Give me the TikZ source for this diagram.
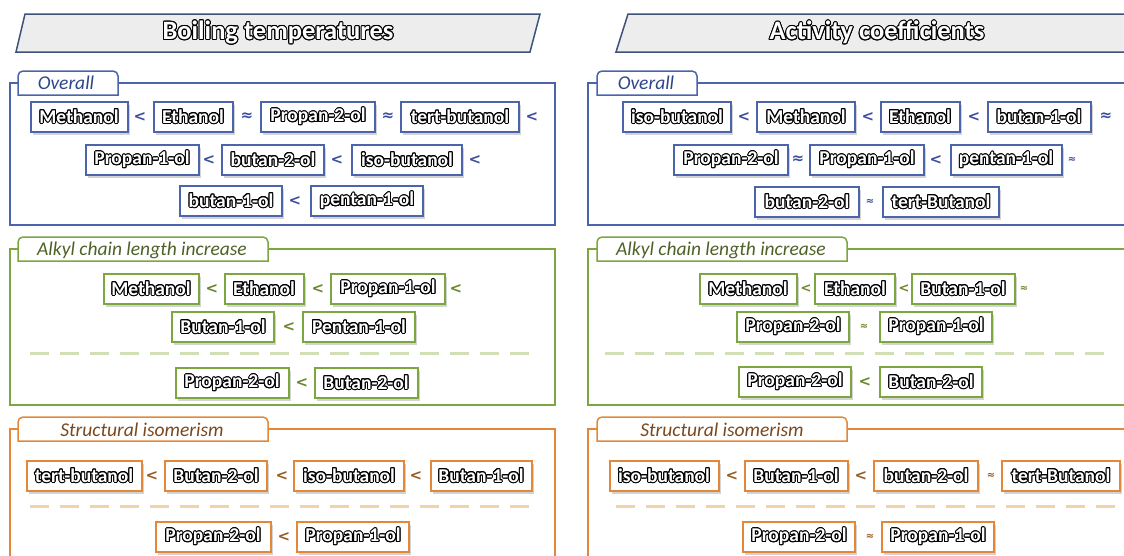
\documentclass[tikz,border=0pt]{standalone}
\usepackage{fontspec}
\setmainfont{Carlito}
\newfontfamily\symfont{DejaVu Sans}
\usepackage{contour}
\contourlength{1pt}
\usetikzlibrary{shadows}

\definecolor{bluC}{RGB}{76,100,172}
\definecolor{grnC}{RGB}{124,166,62}
\definecolor{orgC}{RGB}{226,136,58}
\definecolor{bluT}{RGB}{46,70,138}
\definecolor{grnT}{RGB}{78,98,40}
\definecolor{orgT}{RGB}{122,72,30}
\definecolor{bluR}{RGB}{58,78,160}
\definecolor{grnR}{RGB}{104,134,42}
\definecolor{orgR}{RGB}{150,92,34}
\definecolor{grnD}{RGB}{208,224,180}
\definecolor{orgD}{RGB}{242,210,170}
\definecolor{titF}{RGB}{237,237,237}
\definecolor{titD}{RGB}{62,82,122}

\newcommand{\ol}[1]{\contour{black}{#1}}

\tikzset{
	molbox/.style={draw,line width=2pt,fill=white,minimum height=30,inner sep=0pt,text=white,
		font=\fontsize{19.5}{21}\selectfont\bfseries,
		drop shadow={shadow xshift=2pt,shadow yshift=-2.5pt,opacity=.35}},
	blubox/.style={molbox,draw=bluC},
	grnbox/.style={molbox,draw=grnC},
	orgbox/.style={molbox,draw=orgC},
	rel/.style={font=\symfont\bfseries\fontsize{15}{15}\selectfont,inner sep=0pt},
	relmd/.style={font=\symfont\bfseries\fontsize{13}{13}\selectfont,inner sep=0pt},
	relsm/.style={font=\symfont\bfseries\fontsize{10}{10}\selectfont,inner sep=0pt},
	frame/.style={line width=1.5pt},
	tab/.style={line width=1.5pt,fill=white},
	tabtext/.style={font=\fontsize{19.5}{20}\selectfont\itshape,inner sep=0pt},
	dashline/.style={line width=3pt,dash pattern=on 19pt off 11pt},
	title/.style={inner sep=0pt,text=white,font=\fontsize{26.5}{28}\selectfont\bfseries}
}

\begin{document}
\begin{tikzpicture}[x=1pt,y=-1pt]
	\useasboundingbox (0,0) rectangle (1124,555);

	%titles
	\draw[line width=1.5pt,draw=titD,fill=titF] (25,14)--(540,14)--(530,52)--(16,52)--cycle;
	\draw[line width=1.5pt,draw=titD,fill=titF] (628,14)--(1140,14)--(1130,52)--(616,52)--cycle;
		\node[title] (tBoil) at (278,33) {\ol{Boiling temperatures}};
		\node[title] (tAct) at (877,33) {\ol{Activity coefficients}};

	%frames
	\draw[frame,bluC] (18,83)--(10,83)--(10,225)--(555,225)--(555,83)--(118,83);		%blue left
	\draw[frame,bluC] (597,83)--(588,83)--(588,225)--(1130,225);		%blue right
	\draw[frame,bluC] (697,83)--(1130,83);
	\draw[frame,grnC] (18,249)--(10,249)--(10,405)--(555,405)--(555,249)--(268,249);	%green left
	\draw[frame,grnC] (597,249)--(588,249)--(588,405)--(1130,405);		%green right
	\draw[frame,grnC] (847,249)--(1130,249);
	\draw[frame,orgC] (18,429)--(10,429)--(10,560);		%orange left
	\draw[frame,orgC] (555,560)--(555,429)--(268,429);
	\draw[frame,orgC] (597,429)--(588,429)--(588,560);	%orange right
	\draw[frame,orgC] (847,429)--(1130,429);

	%tabs
	\draw[tab,draw=bluC] (18,95) [rounded corners=5pt]--(18,71)--(118,71)[sharp corners]--(118,95)--cycle;
	\draw[tab,draw=bluC] (597,95) [rounded corners=5pt]--(597,71)--(697,71)[sharp corners]--(697,95)--cycle;
	\draw[tab,draw=grnC] (18,261) [rounded corners=5pt]--(18,237)--(268,237)[sharp corners]--(268,261)--cycle;
	\draw[tab,draw=grnC] (597,261) [rounded corners=5pt]--(597,237)--(847,237)[sharp corners]--(847,261)--cycle;
	\draw[tab,draw=orgC] (18,441) [rounded corners=5pt]--(18,417)--(268,417)[sharp corners]--(268,441)--cycle;
	\draw[tab,draw=orgC] (597,441) [rounded corners=5pt]--(597,417)--(847,417)[sharp corners]--(847,441)--cycle;
		\node[tabtext,text=bluT] (ovL) at (66,83) {Overall};
		\node[tabtext,text=bluT] (ovR) at (646,83) {Overall};
		\node[tabtext,text=grnT] (alL) at (142,250) {Alkyl chain length increase};
		\node[tabtext,text=grnT] (alR) at (721,250) {Alkyl chain length increase};
		\node[tabtext,text=orgT] (stL) at (142,430) {Structural isomerism};
		\node[tabtext,text=orgT] (stR) at (722,430) {Structural isomerism};

	%dashed separators
	\draw[dashline,grnD] (30,353)--(537,353);
	\draw[dashline,grnD] (605,353)--(1110,353);
	\draw[dashline,orgD] (30,506)--(537,506);
	\draw[dashline,orgD] (616,506)--(1124,506);

	%boiling - overall
	\node[blubox,minimum width=97] (bOMeth) at (79,117) {\ol{Methanol}};
	\node[rel,bluR] (bOr1) at (140,117) {<};
	\node[blubox,minimum width=79] (bOEth) at (193,117) {\ol{Ethanol}};
	\node[rel,bluR] (bOr2) at (247,117) {≈};
	\node[blubox,minimum width=114] (bOPr2) at (318,117) {\ol{Propan-2-ol}};
	\node[rel,bluR] (bOr3) at (388,117) {≈};
	\node[blubox,minimum width=118] (bOTert) at (460,117) {\ol{tert-butanol}};
	\node[rel,bluR] (bOr4) at (532,117) {<};
	%
	\node[blubox,minimum width=113] (bOPr1) at (142,160) {\ol{Propan-1-ol}};
	\node[rel,bluR] (bOr5) at (209,160) {<};
	\node[blubox,minimum width=102] (bOBu2) at (273,160) {\ol{butan-2-ol}};
	\node[rel,bluR] (bOr6) at (337,160) {<};
	\node[blubox,minimum width=110] (bOIso) at (407,160) {\ol{iso-butanol}};
	\node[rel,bluR] (bOr7) at (475,160) {<};
	%
	\node[blubox,minimum width=102] (bOBu1) at (231,201) {\ol{butan-1-ol}};
	\node[rel,bluR] (bOr8) at (295,201) {<};
	\node[blubox,minimum width=112] (bOPe1) at (367,201) {\ol{pentan-1-ol}};

	%activity - overall
	\node[blubox,minimum width=108] (aOIso) at (677,117) {\ol{iso-butanol}};
	\node[rel,bluR] (aOr1) at (744,117) {<};
	\node[blubox,minimum width=98] (aOMeth) at (806,117) {\ol{Methanol}};
	\node[rel,bluR] (aOr2) at (868,117) {<};
	\node[blubox,minimum width=79] (aOEth) at (920,117) {\ol{Ethanol}};
	\node[rel,bluR] (aOr3) at (974,117) {<};
	\node[blubox,minimum width=103] (aOBu1) at (1039,117) {\ol{butan-1-ol}};
	\node[rel,bluR] (aOr4) at (1106,117) {≈};
	%
	\node[blubox,minimum width=114] (aOPr2) at (731,160) {\ol{Propan-2-ol}};
	\node[rel,bluR] (aOr5) at (798,160) {≈};
	\node[blubox,minimum width=114] (aOPr1) at (867,160) {\ol{Propan-1-ol}};
	\node[rel,bluR] (aOr6) at (936,160) {<};
	\node[blubox,minimum width=111] (aOPe1) at (1006,160) {\ol{pentan-1-ol}};
	\node[relsm,bluR] (aOr7) at (1072,160) {≈};
	%
	\node[blubox,minimum width=104] (aOBu2) at (807,202) {\ol{butan-2-ol}};
	\node[relsm,bluR] (aOr8) at (870,202) {≈};
	\node[blubox,minimum width=116] (aOTert) at (941,202) {\ol{tert-Butanol}};

	%boiling - alkyl chain
	\node[grnbox,minimum width=95] (bAMeth) at (151,289) {\ol{Methanol}};
	\node[rel,grnR] (bAr1) at (212,289) {<};
	\node[grnbox,minimum width=79] (bAEth) at (264,289) {\ol{Ethanol}};
	\node[rel,grnR] (bAr2) at (318,289) {<};
	\node[grnbox,minimum width=114] (bAPr1) at (388,289) {\ol{Propan-1-ol}};
	\node[rel,grnR] (bAr3) at (456,289) {<};
	%
	\node[grnbox,minimum width=102] (bABu1) at (223,327) {\ol{Butan-1-ol}};
	\node[rel,grnR] (bAr4) at (289,327) {<};
	\node[grnbox,minimum width=112] (bAPe1) at (359,327) {\ol{Pentan-1-ol}};
	%
	\node[grnbox,minimum width=113] (bAPr2) at (232,383) {\ol{Propan-2-ol}};
	\node[rel,grnR] (bAr5) at (302,383) {<};
	\node[grnbox,minimum width=103] (bABu2) at (366,383) {\ol{Butan-2-ol}};

	%activity - alkyl chain
	\node[grnbox,minimum width=97] (aAMeth) at (748,289) {\ol{Methanol}};
	\node[relmd,grnR] (aAr1) at (806,289) {<};
	\node[grnbox,minimum width=80] (aAEth) at (855,289) {\ol{Ethanol}};
	\node[relmd,grnR] (aAr2) at (904,289) {<};
	\node[grnbox,minimum width=103] (aABu1) at (963,289) {\ol{Butan-1-ol}};
	\node[relsm,grnR] (aAr3) at (1024,289) {≈};
	%
	\node[grnbox,minimum width=112] (aAPr2) at (793,327) {\ol{Propan-2-ol}};
	\node[relsm,grnR] (aAr4) at (864,327) {≈};
	\node[grnbox,minimum width=112] (aAPr1) at (936,327) {\ol{Propan-1-ol}};
	%
	\node[grnbox,minimum width=112] (aAPr2b) at (795,382) {\ol{Propan-2-ol}};
	\node[rel,grnR] (aAr5) at (865,382) {<};
	\node[grnbox,minimum width=102] (aABu2) at (931,382) {\ol{Butan-2-ol}};

	%boiling - structural isomerism
	\node[orgbox,minimum width=115] (bSTert) at (84,476) {\ol{tert-butanol}};
	\node[rel,orgR] (bSr1) at (152,476) {<};
	\node[orgbox,minimum width=102] (bSBu2) at (216,476) {\ol{Butan-2-ol}};
	\node[rel,orgR] (bSr2) at (282,476) {<};
	\node[orgbox,minimum width=110] (bSIso) at (349,476) {\ol{iso-butanol}};
	\node[rel,orgR] (bSr3) at (416,476) {<};
	\node[orgbox,minimum width=101] (bSBu1) at (481,476) {\ol{Butan-1-ol}};
	%
	\node[orgbox,minimum width=115] (bSPr2) at (213,537) {\ol{Propan-2-ol}};
	\node[rel,orgR] (bSr4) at (284,537) {<};
	\node[orgbox,minimum width=112] (bSPr1) at (353,537) {\ol{Propan-1-ol}};

	%activity - structural isomerism
	\node[orgbox,minimum width=109] (aSIso) at (664,476) {\ol{iso-butanol}};
	\node[rel,orgR] (aSr1) at (732,476) {<};
	\node[orgbox,minimum width=103] (aSBu1) at (796,476) {\ol{Butan-1-ol}};
	\node[rel,orgR] (aSr2) at (861,476) {<};
	\node[orgbox,minimum width=104] (aSBu2) at (926,476) {\ol{butan-2-ol}};
	\node[relsm,orgR] (aSr3) at (991,476) {≈};
	\node[orgbox,minimum width=118] (aSTert) at (1061,476) {\ol{tert-Butanol}};
	%
	\node[orgbox,minimum width=112] (aSPr2) at (799,537) {\ol{Propan-2-ol}};
	\node[relsm,orgR] (aSr4) at (870,537) {≈};
	\node[orgbox,minimum width=112] (aSPr1) at (938,537) {\ol{Propan-1-ol}};

\end{tikzpicture}
\end{document}
